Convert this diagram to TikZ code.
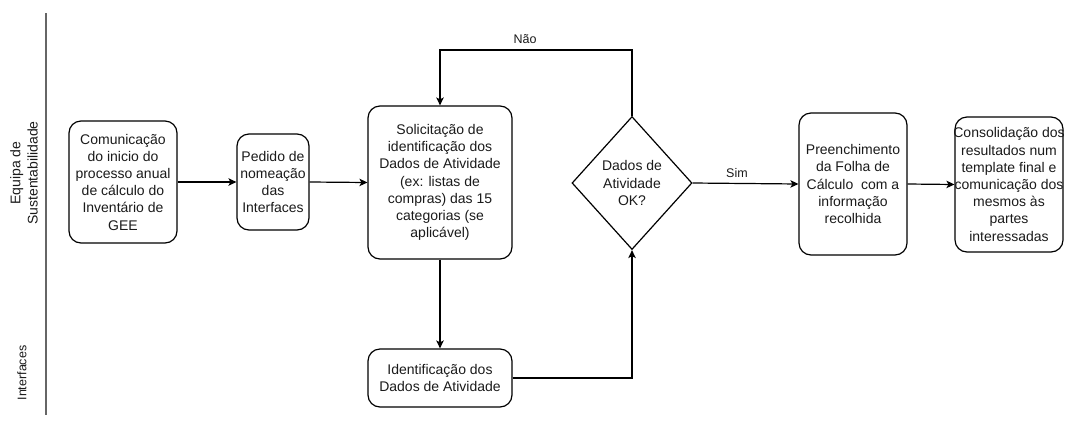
\documentclass[tikz,border=0pt]{standalone}
\usepackage{fontspec}
\setmainfont{Liberation Sans}
\usetikzlibrary{shapes.geometric,arrows.meta}
\definecolor{txt}{HTML}{1A1A1A}
\definecolor{lane}{HTML}{666666}
\begin{document}
\begin{tikzpicture}[x=1pt,y=-1pt,
  every node/.style={font=\fontsize{14}{17.2}\selectfont, text=txt},
  procbox/.style={draw=black, line width=1.2pt, rounded corners=12pt, align=center, inner sep=0pt},
  decbox/.style={draw=black, line width=1.2pt, diamond, align=center, inner sep=0pt, minimum width=120pt, minimum height=133pt},
  txtonly/.style={align=center, inner sep=0pt},
  lanelbl/.style={align=center, inner sep=0pt, rotate=90},
  edgelbl/.style={inner sep=0pt, font=\fontsize{12.5}{15}\selectfont},
  flow/.style={draw=black, line width=1.2pt, -{Stealth[length=8pt,width=7.5pt,inset=2pt]}},
  conn/.style={draw=black, line width=1.2pt}]
\useasboundingbox (0,0) rectangle (1065,421);
% swimlane divider
\coordinate (lanetop) at (46,13);
\coordinate (lanebot) at (46,415);
\draw[draw=lane, line width=1.5pt] (lanetop) -- (lanebot);
\node[lanelbl] (lane1) at (24,173) {Equipa de\\Sustentabilidade};
\node[lanelbl, font=\fontsize{12.5}{15}\selectfont] (lane2) at (22,373) {Interfaces};
% boxes
\node[procbox, minimum width=108pt, minimum height=122pt] (b1) at (123,182) {Comunicação\\do inicio do\\processo anual\\de cálculo do\\Inventário de\\GEE};
\node[procbox, minimum width=72pt, minimum height=96pt] (b2) at (273,182) {Pedido de\\nomeação\\das\\Interfaces};
\node[procbox, minimum width=144pt, minimum height=153pt] (b3) at (440,182.5) {Solicitação de\\identificação dos\\Dados de Atividade\\(ex: listas de\\compras) das 15\\categorias (se\\aplicável)};
\node[procbox, minimum width=144pt, minimum height=58pt] (b4) at (440,378) {Identificação dos\\Dados de Atividade};
\node[decbox] (d) at (632,183) {Dados de\\Atividade\\OK?};
\node[procbox, minimum width=108pt, minimum height=142pt] (b5) at (853,184) {Preenchimento\\da Folha de\\Cálculo \ com a\\informação\\recolhida};
\node[procbox, minimum width=108pt, minimum height=135pt] (b6) at (1009,184.5) {};
\node[txtonly] (b6t) at (b6.center) {Consolidação dos\\resultados num\\template final e\\comunicação dos\\mesmos às\\partes\\interessadas};
% connectors
\coordinate (loopy) at (0,50);
\draw[flow] (b1.east) -- (b2.west);
\draw[flow] (b2.east) -- (b3.west);
\draw[flow] (b3.south) -- (b4.north);
\draw[flow] (b4.east) -| (d.south);
\draw[flow] (d.north) -- (d.north |- loopy) -| (b3.north);
\node[edgelbl] (lblno) at (525,39) {Não};
\draw[flow] (d.east) -- (b5.west);
\node[edgelbl] (lblsim) at (737,173) {Sim};
\draw[flow] (b5.east) -- (b6.west);
\end{tikzpicture}
\end{document}
